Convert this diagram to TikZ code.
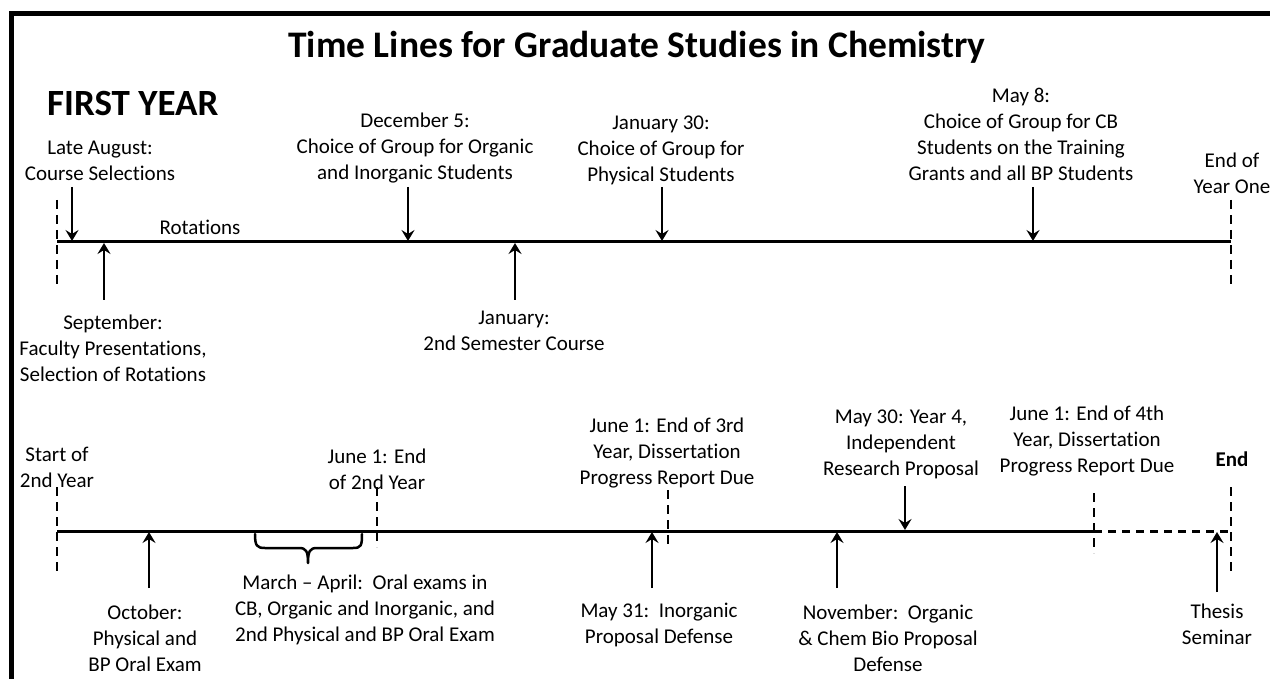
\documentclass[tikz,border=0pt]{standalone}
\usepackage{fontspec}
\setmainfont{Carlito}[Ligatures=NoCommon]
\usetikzlibrary{arrows.meta}
\begin{document}
\begin{tikzpicture}[x=1pt,y=-1pt,
  lbl/.style={font=\fontsize{21}{26}\selectfont, align=center, inner sep=0pt},
  arr/.style={line width=2.5pt, -{Stealth[length=11pt,width=13pt,inset=4pt]}},
  tline/.style={line width=3pt},
  tickline/.style={line width=2.5pt, dash pattern=on 9pt off 6pt},
  dline/.style={line width=3pt, dash pattern=on 8pt off 6pt},
  bracestyle/.style={line width=2.5pt, line cap=round, line join=round}]
\useasboundingbox (0,0) rectangle (1270,679);
\clip (0,0) rectangle (1270,679);
\fill[white] (0,0) rectangle (1270,679);
\draw[line width=5pt] (11,13.5) rectangle (1320,720);

\node[font=\bfseries\fontsize{37.5}{42}\selectfont, anchor=base, inner sep=0pt] (title) at (637,58) {Time Lines for Graduate Studies in Chemistry};
\node[font=\bfseries\fontsize{37}{40}\selectfont, anchor=base west, inner sep=0pt] (fy) at (47,116) {FIRST YEAR};

% ---------- first year timeline ----------
\coordinate (t1a) at (57,242);
\coordinate (t1b) at (1231,242);
\draw[tline] (t1a) -- (t1b);
\coordinate (k1a) at (57,200); \coordinate (k1b) at (57,285);
\draw[tickline] (k1a) -- (k1b);
\coordinate (k2a) at (1231,200); \coordinate (k2b) at (1231,285);
\draw[tickline] (k2a) -- (k2b);

\node[lbl] (lateaug) at (100,160.5) {Late August:\\Course Selections};
\coordinate (a1s) at (72,187); \coordinate (a1e) at (72,241);
\draw[arr] (a1s) -- (a1e);

\node[lbl] (rot) at (200,227) {Rotations};

\node[lbl] (dec5) at (415,148) {December 5:\\Choice of Group for Organic\\and Inorganic Students};
\coordinate (a2s) at (408,187); \coordinate (a2e) at (408,241);
\draw[arr] (a2s) -- (a2e);

\node[lbl] (jan30) at (661,150) {January 30:\\Choice of Group for\\Physical Students};
\coordinate (a3s) at (662,187); \coordinate (a3e) at (662,241);
\draw[arr] (a3s) -- (a3e);

\node[lbl] (may8) at (1021,134) {May 8:\\Choice of Group for CB\\Students on the Training\\Grants and all BP Students};
\coordinate (a4s) at (1033,187); \coordinate (a4e) at (1033,241);
\draw[arr] (a4s) -- (a4e);

\node[lbl] (endone) at (1232,173) {End of\\Year One};

\node[lbl] (sept) at (113,348) {September:\\Faculty Presentations,\\Selection of Rotations};
\coordinate (a5s) at (104,300); \coordinate (a5e) at (104,243);
\draw[arr] (a5s) -- (a5e);

\node[lbl] (jan) at (514,330.5) {January:\\2nd Semester Course};
\coordinate (a6s) at (515,300); \coordinate (a6e) at (515,243);
\draw[arr] (a6s) -- (a6e);

% ---------- second timeline ----------
\coordinate (t2a) at (57,531);
\coordinate (t2m) at (1094,531);
\coordinate (t2b) at (1231,531);
\draw[tline] (t2a) -- (t2m);
\draw[dline] (t2m) -- (t2b);

\coordinate (k3a) at (57,487); \coordinate (k3b) at (57,572);
\draw[tickline] (k3a) -- (k3b);
\coordinate (k4a) at (377,487); \coordinate (k4b) at (377,547);
\draw[tickline] (k4a) -- (k4b);
\coordinate (k5a) at (668,490); \coordinate (k5b) at (668,547);
\draw[tickline] (k5a) -- (k5b);
\coordinate (k6a) at (1094,493); \coordinate (k6b) at (1094,553);
\draw[tickline] (k6a) -- (k6b);
\coordinate (k7a) at (1231,487); \coordinate (k7b) at (1231,572);
\draw[tickline] (k7a) -- (k7b);

\node[lbl] (start2) at (57,467) {Start of\\2nd Year};
\node[lbl] (end2) at (377,469.5) {June 1: End\\of 2nd Year};
\node[lbl] (end3) at (667,453) {June 1: End of 3rd\\Year, Dissertation\\Progress Report Due};
\node[lbl] (may30) at (901,444) {May 30: Year 4,\\Independent\\Research Proposal};
\node[lbl] (end4) at (1087,441) {June 1: End of 4th\\Year, Dissertation\\Progress Report Due};
\node[lbl, font=\bfseries\fontsize{21}{26}\selectfont] (endall) at (1232,459) {End};

\coordinate (b1s) at (905,486); \coordinate (b1e) at (905,530);
\draw[arr] (b1s) -- (b1e);

\node[lbl] (oct) at (145,638.5) {October:\\Physical and\\BP Oral Exam};
\coordinate (b2s) at (149,588); \coordinate (b2e) at (149,532);
\draw[arr] (b2s) -- (b2e);

\node[lbl] (march) at (365,610) {March -- April:\ \ Oral exams in\\CB, Organic and Inorganic, and\\2nd Physical and BP Oral Exam};
\coordinate (br1) at (255,534); \coordinate (brtip) at (308,563); \coordinate (br2) at (362,534);
\draw[bracestyle] (br1) .. controls (255,546) and (257,548) .. (265,548) -- (299,548)
   .. controls (306,548) and (308,551) .. (brtip)
   .. controls (308,551) and (310,548) .. (317,548) -- (353,548)
   .. controls (361,548) and (362,546) .. (br2);

\node[lbl] (may31) at (659,624.5) {May 31:\ \ Inorganic\\Proposal Defense};
\coordinate (b3s) at (652,588); \coordinate (b3e) at (652,532);
\draw[arr] (b3s) -- (b3e);

\node[lbl] (nov) at (888,638) {November:\ \ Organic\\\& Chem Bio Proposal\\Defense};
\coordinate (b4s) at (837,588); \coordinate (b4e) at (837,532);
\draw[arr] (b4s) -- (b4e);

\node[lbl] (thesis) at (1217,624.5) {Thesis\\Seminar};
\coordinate (b5s) at (1217,592); \coordinate (b5e) at (1217,532);
\draw[arr] (b5s) -- (b5e);
\end{tikzpicture}
\end{document}
